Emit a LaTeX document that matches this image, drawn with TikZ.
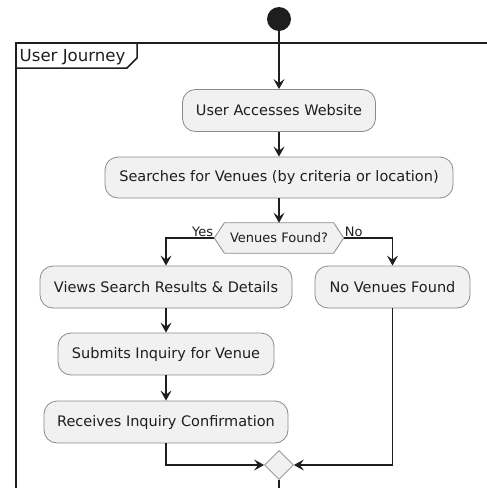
\documentclass[tikz,border=0pt]{standalone}
\usepackage{fontspec}
\setmainfont{DejaVu Sans}
\usetikzlibrary{arrows.meta,shapes.geometric}
\definecolor{boxfill}{HTML}{F1F1F1}
\definecolor{boxline}{HTML}{8A8A8A}
\definecolor{ink}{HTML}{1E1E1E}
\begin{document}
\begin{tikzpicture}[x=1pt,y=-1pt,
  act/.style={rectangle, rounded corners=13pt, draw=boxline, line width=0.8pt, fill=boxfill,
    text=ink, inner sep=0pt, minimum height=42pt, font=\fontsize{14.5}{17}\selectfont},
  arr/.style={draw=ink, line width=1.1pt, -{Stealth[length=10pt,width=11pt,inset=4pt]}},
  conn/.style={draw=ink, line width=1.1pt},
  lbl/.style={text=ink, inner sep=1pt, font=\fontsize{13}{15}\selectfont},
  frameline/.style={draw=ink, line width=1.5pt}
]
\useasboundingbox (0,0) rectangle (487,488);
\clip (0,0) rectangle (487,488);
% frame
\draw[frameline] (495,43) -- (16,43) -- (16,495);
\draw[frameline] (16,68) -- (127,68) -- (137,58) -- (137,43);
\node[anchor=west, text=ink, inner sep=0pt, font=\fontsize{16.6}{19}\selectfont] (ftitle) at (19.5,57) {User Journey};
% start
\node[circle, fill=ink, minimum size=24pt, inner sep=0pt] (start) at (279,19) {};
% activities
\node[act, minimum width=193pt] (b1) at (279,110.5) {User Accesses Website};
\node[act, minimum width=348pt, minimum height=41pt] (b2) at (279,177.5) {Searches for Venues (by criteria or location)};
% decision
\node[minimum width=129pt, minimum height=30pt, inner sep=0pt] (dec) at (279,238) {};
\fill[boxfill] (dec.west) -- ([xshift=10pt]dec.north west) -- ([xshift=-10pt]dec.north east) -- (dec.east) -- ([xshift=-10pt]dec.south east) -- ([xshift=10pt]dec.south west) -- cycle;
\draw[boxline, line width=0.8pt] (dec.west) -- ([xshift=10pt]dec.north west) -- ([xshift=-10pt]dec.north east) -- (dec.east) -- ([xshift=-10pt]dec.south east) -- ([xshift=10pt]dec.south west) -- cycle;
\node[lbl] (dectext) at (dec.center) {Venues Found?};
\node[act, minimum width=252pt] (b3) at (166,287) {Views Search Results \& Details};
\node[act, minimum width=155pt] (b4) at (392.5,287) {No Venues Found};
\node[act, minimum width=216pt] (b5) at (166,354) {Submits Inquiry for Venue};
\node[act, minimum width=244pt] (b6) at (166,422) {Receives Inquiry Confirmation};
\node[diamond, aspect=1, draw=boxline, line width=0.8pt, fill=boxfill, inner sep=0pt,
      minimum width=29pt, minimum height=29pt] (merge) at (279,465) {};
\coordinate (endpt) at (279,500);
% labels
\node[lbl, anchor=south east] (yes) at ([yshift=0.5pt]dec.west) {Yes};
\node[lbl, anchor=south west] (no) at ([yshift=0.5pt]dec.east) {No};
% connectors
\draw[arr] (start) -- (b1);
\draw[arr] (b1) -- (b2);
\draw[arr] (b2) -- (dec.north);
\draw[arr] (dec.west) -| (b3.north);
\draw[arr] (dec.east) -| (b4.north);
\draw[arr] (b3) -- (b5);
\draw[arr] (b5) -- (b6);
\draw[arr] (b6.south) |- (merge.west);
\draw[arr] (b4.south) |- (merge.east);
\draw[conn] (merge.south) -- (endpt);
\end{tikzpicture}
\end{document}
